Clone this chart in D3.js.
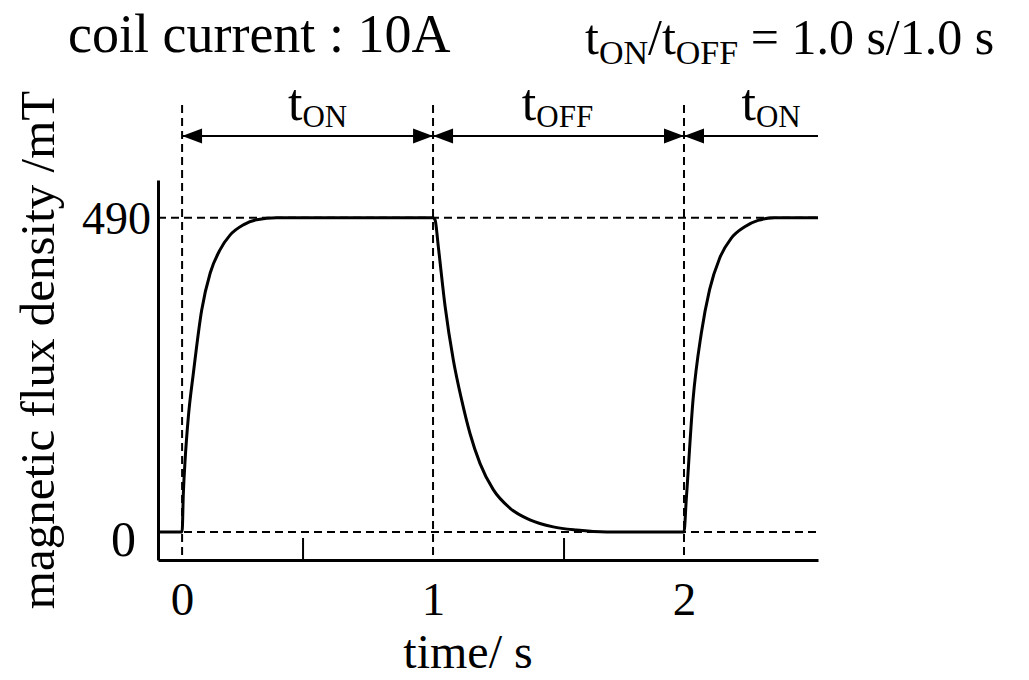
<!DOCTYPE html>
<html><head><meta charset="utf-8">
<script src="https://cdn.jsdelivr.net/npm/d3@7"></script>
<style>body{margin:0;background:#fff}svg{display:block}text{font-family:"Liberation Serif","Times New Roman",serif;fill:#000}</style>
</head><body><svg id="c" width="1029" height="680"></svg>
<script>
// Data
const xTicks = [0, 1, 2];
const xMinorTicks = [0.48, 1.52];
const yTicks = [0, 490];
const periodBounds = [0, 1, 2];
const periodLabels = [
  {at: 0.54, main: "t", sub: "ON"},
  {at: 1.496, main: "t", sub: "OFF"},
  {at: 2.347, main: "t", sub: "ON"}
];
const timeS = [-0.096, 0, 0.005, 0.012, 0.025, 0.045, 0.078, 0.112, 0.151, 0.191, 0.244, 0.297, 0.377, 1.0,
  1.008, 1.021, 1.048, 1.081, 1.114, 1.147, 1.187, 1.240, 1.307, 1.386, 1.479, 1.572, 1.692, 2.0,
  2.009, 2.036, 2.069, 2.102, 2.142, 2.188, 2.242, 2.295, 2.361, 2.534];
const fluxMT = [0, 0, 60, 112, 180, 248, 346, 404, 440, 463, 479, 487, 490, 490,
  487, 445, 352, 268, 206, 154, 107, 66, 37, 19, 8, 3, 0, 0,
  50, 206, 310, 378, 427, 458, 476, 486, 490, 490];

const svg = d3.select("#c");
const x = d3.scaleLinear().domain([-0.096, 2.534]).range([158, 818]);
const y = d3.scaleLinear().domain([-43.7, 549]).range([560, 180]);

// dashed reference lines
const dash = "8,5";
svg.selectAll("line.h").data(yTicks).join("line")
  .attr("x1", x(-0.096)).attr("x2", x(2.534))
  .attr("y1", d => y(d)).attr("y2", d => y(d))
  .attr("stroke", "#000").attr("stroke-width", 2).attr("stroke-dasharray", dash);
svg.selectAll("line.v").data(periodBounds).join("line")
  .attr("x1", d => x(d)).attr("x2", d => x(d))
  .attr("y1", 105).attr("y2", 560)
  .attr("stroke", "#000").attr("stroke-width", 2).attr("stroke-dasharray", dash);

// arrow line
const arrowY = 136;
svg.append("line").attr("x1", x(0)).attr("x2", x(2.534)).attr("y1", arrowY).attr("y2", arrowY)
  .attr("stroke", "#000").attr("stroke-width", 2);
const AL = 20, AH = 7.5;
function arrow(tip, dir) {
  const tx = x(tip);
  svg.append("path")
    .attr("d", `M${tx},${arrowY} L${tx - dir*AL},${arrowY-AH} L${tx - dir*AL},${arrowY+AH} Z`)
    .attr("fill", "#000");
}
arrow(0, -1); arrow(1, 1); arrow(1, -1); arrow(2, 1); arrow(2, -1);

// period labels
periodLabels.forEach(p => {
  const t = svg.append("text").attr("x", x(p.at)).attr("y", 120)
    .attr("text-anchor", "middle").attr("font-size", 52);
  t.append("tspan").text(p.main);
  t.append("tspan").attr("dy", 7).attr("font-size", 31).text(p.sub);
});

// axes
const xAxis = svg.append("g").attr("transform", "translate(0,560)")
  .call(d3.axisBottom(x).tickValues(xTicks).tickSize(0).tickSizeOuter(0).tickFormat(d3.format("d")));
xAxis.select(".domain").attr("stroke-width", 3);
xAxis.selectAll("text").attr("font-size", 47).attr("font-family", "Liberation Serif")
  .attr("y", 55).attr("dy", 0);
svg.append("g").attr("transform", "translate(0,560)")
  .call(d3.axisTop(x).tickValues(xMinorTicks).tickSize(22).tickFormat(""))
  .call(g => g.select(".domain").remove())
  .selectAll("line").attr("stroke-width", 2);

const yAxis = svg.append("g").attr("transform", `translate(${x(-0.096)},0)`)
  .call(d3.axisLeft(y).tickValues(yTicks).tickSize(0).tickSizeOuter(0).tickFormat(d3.format("d")));
yAxis.select(".domain").attr("stroke-width", 3);
yAxis.selectAll("text").attr("font-family", "Liberation Serif").attr("dy", 0)
  .attr("font-size", d => d === 0 ? 50 : 46)
  .attr("x", d => d === 0 ? -22 : -7)
  .attr("y", d => d === 0 ? 24 : 16);

// curve
const pts = timeS.map((t, i) => [t, fluxMT[i]]);
svg.append("path").datum(pts)
  .attr("d", d3.line().x(d => x(d[0])).y(d => y(d[1])).curve(d3.curveMonotoneX))
  .attr("fill", "none").attr("stroke", "#000").attr("stroke-width", 3);

// titles
svg.append("text").attr("x", 68).attr("y", 52).attr("font-size", 54).text("coil current : 10A");
const t2 = svg.append("text").attr("x", 585).attr("y", 54).attr("font-size", 50);
t2.append("tspan").text("t");
t2.append("tspan").attr("dy", 10).attr("font-size", 34).text("ON");
t2.append("tspan").attr("dy", -10).text("/t");
t2.append("tspan").attr("dy", 10).attr("font-size", 34).text("OFF");
t2.append("tspan").attr("dy", -10).text(" = 1.0 s/1.0 s");

// axis titles
svg.append("text").attr("x", 468).attr("y", 668).attr("text-anchor", "middle").attr("font-size", 48).text("time/ s");
svg.append("text").attr("transform", "translate(54,350) rotate(-90)").attr("text-anchor", "middle")
  .attr("font-size", 49).text("magnetic flux density /mT");
</script></body></html>
